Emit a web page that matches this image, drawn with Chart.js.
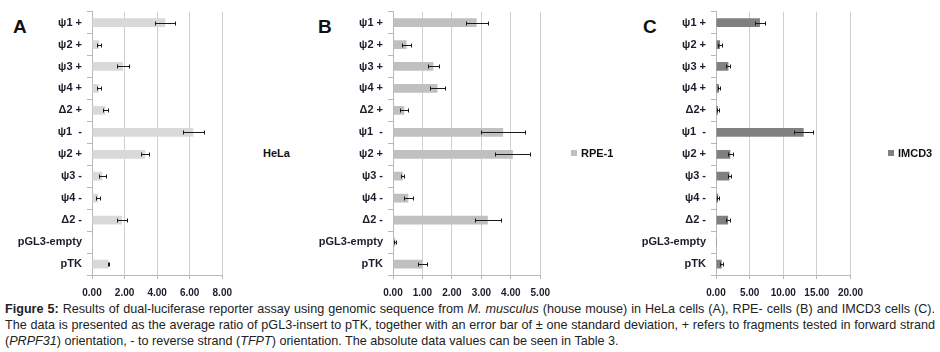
<!DOCTYPE html>
<html>
<head>
<meta charset="utf-8">
<script src="https://cdn.jsdelivr.net/npm/chart.js@4"></script>
<style>
  body { margin:0; width:940px; height:352px; background:#fff; position:relative; overflow:hidden;
         font-family:"Liberation Sans", Arial, sans-serif; }
  canvas { position:absolute; top:0; }
  .letter { position:absolute; font-weight:bold; font-size:19px; color:#111; line-height:1; }
  .legend { position:absolute; font-weight:bold; font-size:11px; color:#111; line-height:12px; white-space:nowrap; }
  .legend i { display:inline-block; width:6px; height:6px; margin-right:4px; vertical-align:1px; }
  .caption { position:absolute; left:5px; top:301px; font-size:12.6px; line-height:16px; color:#222; }
  .caption span.line { display:inline-block; white-space:nowrap; }
</style>
</head>
<body>
<div class="letter" style="left:13px;top:17px;">A</div>
<div class="letter" style="left:318px;top:17px;">B</div>
<div class="letter" style="left:643px;top:17px;">C</div>

<canvas id="cA" width="240" height="300" style="left:0px;"></canvas>
<canvas id="cB" width="248" height="300" style="left:310px;"></canvas>
<canvas id="cC" width="251" height="300" style="left:620px;"></canvas>

<div class="legend" style="left:263px;top:147px;">HeLa</div>
<div class="legend" style="left:571px;top:147px;"><i style="background:#c0c0c0"></i>RPE-1</div>
<div class="legend" style="left:888px;top:147px;"><i style="background:#808080"></i>IMCD3</div>

<div class="caption">
  <span class="line fit"><b>Figure 5:</b> Results of dual-luciferase reporter assay using genomic sequence from <i>M. musculus</i> (house mouse) in HeLa cells (A), RPE- cells (B) and IMCD3 cells (C).</span><br>
  <span class="line fit">The data is presented as the average ratio of pGL3-insert to pTK, together with an error bar of ± one standard deviation, + refers to fragments tested in forward strand</span><br>
  <span class="line">(<i>PRPF31</i>) orientation, - to reverse strand (<i>TFPT</i>) orientation. The absolute data values can be seen in Table 3.</span>
</div>

<script>
// justify the first two caption lines to the reference width
document.querySelectorAll('.caption .fit').forEach(el => {
  const target = 930;
  const w = el.getBoundingClientRect().width;
  const spaces = (el.textContent.match(/ /g) || []).length;
  if (spaces && w < target) el.style.wordSpacing = ((target - w) / spaces) + 'px';
});

// ---- data ----
const categoriesAB = ['ψ1 +','ψ2 +','ψ3 +','ψ4 +','Δ2 +','ψ1  -','ψ2 +','ψ3 -','ψ4 -','Δ2 -','pGL3-empty','pTK'];
const categoriesC  = ['ψ1 +','ψ2 +','ψ3 +','ψ4 +','Δ2+','ψ1  -','ψ2 +','ψ3 -','ψ4 -','Δ2 -','pGL3-empty','pTK'];

const helaMeans = [4.50, 0.43, 1.90, 0.41, 0.82, 6.22, 3.27, 0.63, 0.37, 1.84, 0.01, 1.02];
const helaSD    = [0.62, 0.13, 0.36, 0.13, 0.17, 0.65, 0.25, 0.20, 0.15, 0.30, 0.00, 0.05];

const rpeMeans  = [2.84, 0.46, 1.37, 1.51, 0.38, 3.74, 4.07, 0.33, 0.52, 3.22, 0.08, 1.00];
const rpeSD     = [0.37, 0.16, 0.19, 0.27, 0.14, 0.75, 0.59, 0.06, 0.16, 0.44, 0.03, 0.14];

const imcdMeans = [6.54, 0.60, 1.85, 0.42, 0.28, 13.04, 2.13, 2.00, 0.30, 1.80, 0.02, 0.84];
const imcdSD    = [0.80, 0.23, 0.30, 0.15, 0.10, 1.40, 0.40, 0.25, 0.15, 0.25, 0.00, 0.25];

const helaTicks = {min:0, max:8, step:2};
const rpeTicks  = {min:0, max:5, step:1};
const imcdTicks = {min:0, max:20, step:5};

// ---- error bar plugin ----
const errorBars = {
  id: 'errorBars',
  afterDatasetsDraw(chart) {
    const ctx = chart.ctx, xs = chart.scales.x;
    const ds = chart.data.datasets[0];
    const meta = chart.getDatasetMeta(0);
    ctx.save();
    ctx.strokeStyle = '#1a1a1a';
    ctx.lineWidth = 1;
    meta.data.forEach((bar, i) => {
      const m = ds.data[i], s = ds.sd[i];
      if (!s) return;
      const x1 = Math.round(xs.getPixelForValue(m - s)) + 0.5;
      const x2 = Math.round(xs.getPixelForValue(m + s)) + 0.5;
      const y = Math.round(bar.y) + 0.5;
      ctx.beginPath();
      ctx.moveTo(x1, y); ctx.lineTo(x2, y);
      ctx.moveTo(x1, y - 2); ctx.lineTo(x1, y + 2);
      ctx.moveTo(x2, y - 2); ctx.lineTo(x2, y + 2);
      ctx.stroke();
    });
    ctx.restore();
  }
};

function makeChart(id, labels, means, sd, color, ticks, yWidth) {
  return new Chart(document.getElementById(id), {
    type: 'bar',
    data: {
      labels: labels,
      datasets: [{ data: means, sd: sd, backgroundColor: color, borderWidth: 0,
                   barPercentage: 0.4, categoryPercentage: 1.0 }]
    },
    options: {
      indexAxis: 'y',
      responsive: false,
      animation: false,
      devicePixelRatio: 1,
      layout: { padding: { top: 5, right: 12, left: 0, bottom: 0 } },
      plugins: { legend: { display: false }, tooltip: { enabled: false } },
      scales: {
        x: {
          min: ticks.min, max: ticks.max,
          afterFit: s => { s.height = 25; },
          grid: { color: '#d0d0d0', tickLength: 4, tickColor: '#b8b8b8' },
          border: { display: true, color: '#b8b8b8' },
          ticks: { stepSize: ticks.step, padding: 8, color: '#1c1c2c',
                   font: { family: '"Liberation Sans", Arial, sans-serif', size: 10, weight: 'bold' },
                   callback: v => Number(v).toFixed(2) }
        },
        y: {
          afterFit: s => { s.width = yWidth; },
          grid: { display: true, drawOnChartArea: false, offset: true, tickLength: 5, color: '#b8b8b8' },
          border: { display: true, color: '#b8b8b8' },
          ticks: { padding: 5, color: '#1c1c2c', autoSkip: false,
                   font: { family: '"Liberation Sans", Arial, sans-serif', size: 11, weight: 'bold' } }
        }
      }
    },
    plugins: [errorBars]
  });
}

makeChart('cA', categoriesAB, helaMeans, helaSD, '#d9d9d9', helaTicks, 92);
makeChart('cB', categoriesAB, rpeMeans, rpeSD, '#c0c0c0', rpeTicks, 83);
makeChart('cC', categoriesC, imcdMeans, imcdSD, '#808080', imcdTicks, 96);
</script>
</body>
</html>
